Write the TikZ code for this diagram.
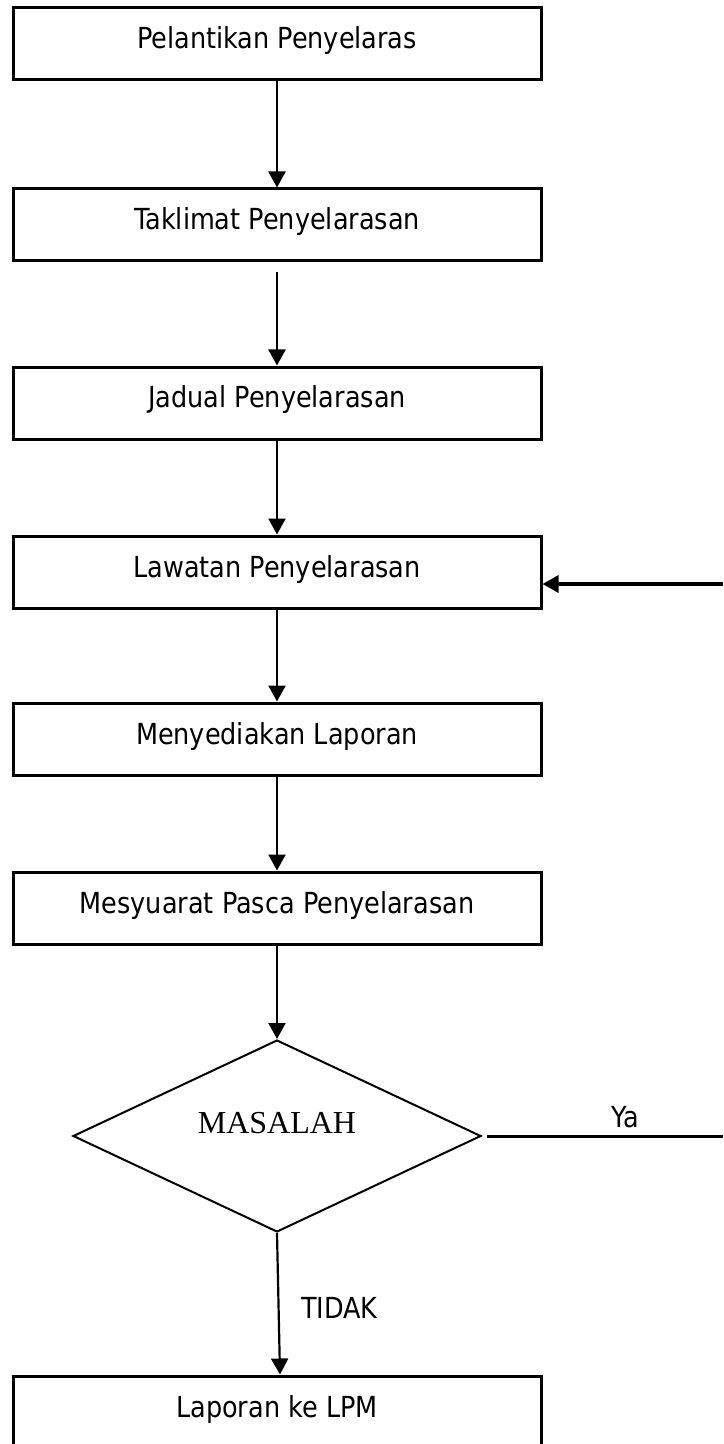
\documentclass[tikz,border=0pt]{standalone}
\usepackage{fontspec}
\setmainfont{DejaVu Sans}[FakeStretch=0.88]
\newfontfamily\timesfont{Liberation Serif}
\usetikzlibrary{shapes.geometric, arrows.meta}
\begin{document}
\begin{tikzpicture}[x=0.5pt, y=-0.5pt, font=\fontsize{14.5}{17}\selectfont,
	kotak/.style={draw=black, line width=1.5pt, minimum width=264pt, minimum height=36pt, inner sep=0, text height=10.5pt, text depth=5.5pt},
	keputusan/.style={draw=black, diamond, line width=1pt, minimum width=204pt, minimum height=96pt, inner sep=0},
	panah/.style={line width=1.1pt, -{Triangle[length=8pt, width=8.5pt]}}]
	\useasboundingbox (0,0) rectangle (723,1444);

	\foreach \i/\y/\t in {1/43.5/Pelantikan Penyelaras, 2/225/Taklimat Penyelarasan, 3/403/Jadual Penyelarasan, 4/572/Lawatan Penyelarasan, 5/739/Menyediakan Laporan, 6/908/Mesyuarat Pasca Penyelarasan, 7/1412/Laporan ke LPM}
	{
		\node[kotak] (k\i) at (277,\y) {\t};
	}

	\node[keputusan, label={[font=\timesfont\fontsize{16}{19}\selectfont, anchor=base, yshift=6.5pt]center:MASALAH}] (masalah) at (277,1136) {};

	\foreach \i/\j in {1/2, 3/4, 4/5, 5/6}
	{
		\draw[panah] (k\i) -- (k\j);
	}
	\draw[panah, shorten <=5pt] (k2) -- (k3);
	\draw[panah] (k6) -- (masalah);

	\draw[panah] (masalah.south) -- ([xshift=1.5pt]k7.north);
	\node[anchor=base west] (tidak) at (294,1318) {TIDAK};

	\coordinate (ya) at (723,1136);
	\coordinate (balik) at (723,584);
	\draw[line width=1.5pt, shorten <=2.5pt] (masalah.east) -- (ya);
	\node[anchor=base] (yalabel) at (625,1127) {Ya};
	\draw[panah, line width=1.6pt] (balik) -- (balik -| k4.east);

\end{tikzpicture}
\end{document}
